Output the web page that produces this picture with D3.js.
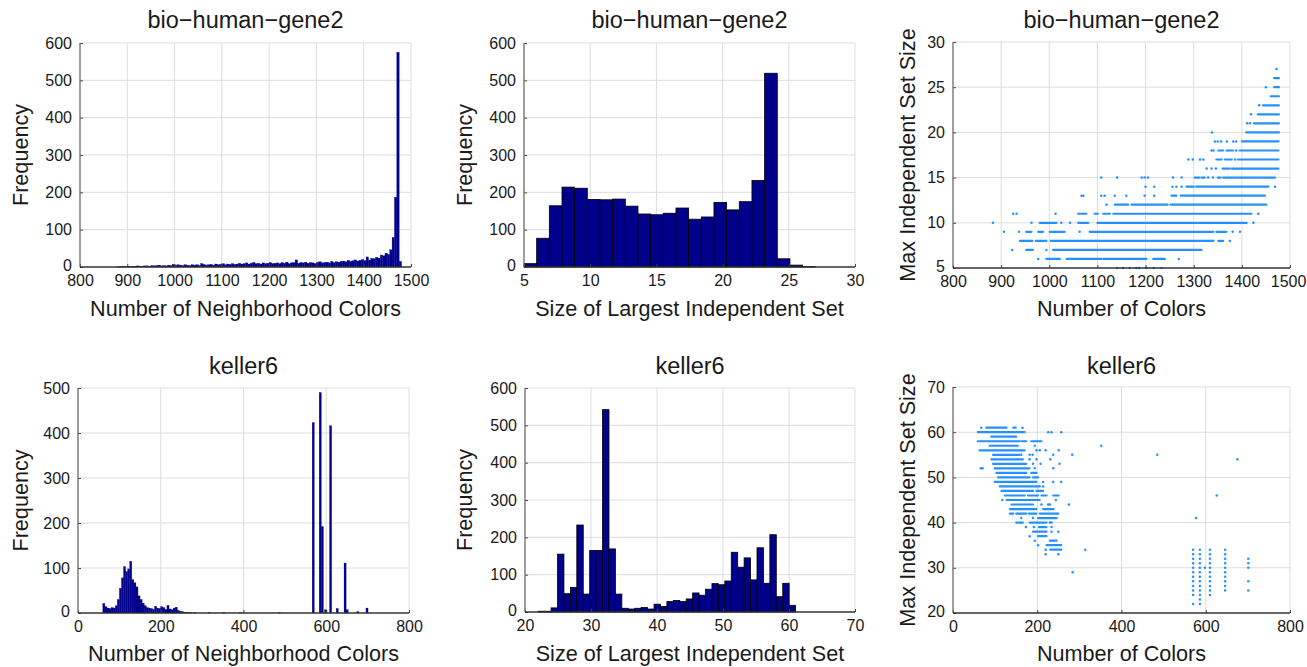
<!DOCTYPE html>
<html>
<head>
<meta charset="utf-8">
<title>Neighborhood colors vs independent sets</title>
<script src="https://cdn.jsdelivr.net/npm/d3@7"></script>
<style>
  body { margin: 0; background: #fff; }
  svg text { font-family: "Liberation Sans", Arial, Helvetica, sans-serif; fill: #1a1a1a; }
  .grid line { stroke: #dddddd; stroke-width: 1; }
  .tick line { stroke: #444; }
</style>
</head>
<body>
<svg id="chart" width="1307" height="667"></svg>
<script>
// ---- data ----

// bio-human-gene2: neighborhood colors histogram (bins of 5 starting at 880)
const bioNbrStart = 880, bioNbrWidth = 5;
const bioNbrCounts = [
  1,1,2,1,2,1,2,2,3,2,
  2,3,3,2,4,3,4,5,3,4,
  3,5,4,7,4,6,5,4,6,5,
  4,6,5,6,4,9,7,5,6,7,
  5,8,6,7,9,6,8,7,9,7,
  8,10,8,9,11,8,10,12,9,10,
  8,11,9,10,12,9,10,11,9,12,
  10,13,9,11,12,19,10,12,11,13,
  10,12,11,9,12,14,11,12,13,11,
  15,12,14,13,15,16,14,18,15,17,
  19,16,18,20,17,27,19,23,22,26,
  24,32,30,37,34,46,79,187,575,15
];

// bio-human-gene2: largest independent set histogram (23 bins over 5..27)
const bioMisRange = [5, 27];
const bioMisCounts = [9,77,164,214,211,181,180,182,163,142,140,144,158,128,134,173,153,175,232,519,22,5,1];

// bio-human-gene2 scatter: dense rows [y, xFrom, xTo] and single points [x, y]
const bioRuns = [
  [26,1467,1477],[25,1467,1477],[24,1460,1477],[23,1444,1477],[22,1433,1477],[21,1425,1477],[20,1409,1477],
  [19,1400,1476],
  [18,1351,1361],[18,1368,1382],[18,1395,1476],
  [17,1347,1358],[17,1365,1379],[17,1392,1476],
  [16,1360,1374],[16,1378,1476],
  [15,1302,1312],[15,1316,1323],[15,1350,1356],[15,1361,1469],
  [14,1285,1300],[14,1305,1455],
  [13,1254,1264],[13,1273,1448],
  [12,1136,1164],[12,1171,1246],[12,1252,1451],
  [11,1060,1077],[11,1094,1101],[11,1112,1126],[11,1133,1420],
  [10,980,1015],[10,1060,1081],[10,1100,1410],
  [9,952,963],[9,977,987],[9,1001,1032],[9,1084,1341],[9,1347,1368],
  [8,939,965],[8,972,994],[8,1003,1341],[8,1351,1361],
  [7,952,966],[7,1008,1316],
  [6,994,1022],[6,1036,1108],[6,1112,1202],[6,1216,1240]
];
const bioPts = [
  [1472,27],[1450,25],[1436,23],[1419,22],[1411,21],[1417,21],[1338,20],
  [1344,19],[1350,19],[1357,19],[1369,19],[1382,19],[1388,19],
  [1337,18],[1341,18],[1388,18],
  [1289,17],[1298,17],[1313,17],[1320,17],[1386,17],
  [1327,16],[1337,16],[1346,16],
  [1108,15],[1141,15],[1192,15],[1198,15],[1205,15],[1257,15],[1275,15],[1330,15],[1340,15],
  [1200,14],[1218,14],[1256,14],[1264,14],[1275,14],[1469,14],
  [1067,13],[1071,13],[1108,13],[1115,13],[1136,13],[1160,13],[1198,13],[1218,13],
  [1119,12],
  [925,11],[932,11],[1013,11],[1434,11],
  [883,10],[963,10],[1025,10],[1043,10],[1424,10],
  [906,9],[937,9],[1063,9],[1381,9],[1396,9],
  [1375,8],
  [923,7],[994,7],
  [977,6],[1269,6],
  [1141,5],[1153,5],[1167,5],[1181,5],[1187,5],[1202,5],[1217,5],[1233,5]
];

// keller6: neighborhood colors histogram, [binStart, count], bins of 5
const kellerNbrWidth = 5;
const kellerNbrBins = [
  [60,21],[65,14],[70,11],[75,10],[80,12],[85,11],[90,16],[95,30],[100,55],[105,78],
  [110,103],[115,92],[120,98],[125,115],[130,74],[135,67],[140,58],[145,38],[150,30],[155,22],
  [160,16],[165,12],[170,11],[175,10],[180,8],[185,15],[190,11],[195,10],[200,14],[205,12],
  [210,8],[215,17],[220,9],[225,7],[230,11],[235,13],[240,6],[245,4],[250,3],[255,2],
  [260,1],[265,1],[270,1],[280,1],[315,1],[350,1],[390,1],[485,1],
  [566,423],[583,490],[588,192],[596,7],[608,416],[624,10],[643,111],[648,7],[674,3],[696,11]
];

// keller6: largest independent set histogram (40 bins over 22..61)
const kellerMisRange = [22, 61];
const kellerMisCounts = [2,2,11,155,49,66,233,48,165,165,542,169,48,10,8,10,12,8,21,15,
  28,31,28,35,51,45,61,76,73,83,160,120,145,86,172,77,207,41,77,18];

// keller6 scatter
const kellerRuns = [
  [61,79,127],[61,143,149],[60,59,170],[59,91,150],[58,59,158],[58,162,174],[58,186,210],
  [57,87,154],[56,63,170],[55,95,158],[54,91,166],[53,95,174],[52,65,71],[52,99,182],
  [51,103,174],[51,186,198],[50,107,182],[50,190,202],[49,99,198],[48,111,206],
  [47,115,190],[47,198,214],[46,123,170],[46,178,202],[46,210,222],[46,238,251],
  [45,127,206],[44,139,190],[43,135,198],[43,214,239],[42,135,143],[42,150,174],[42,180,198],[42,206,250],
  [41,202,246],[40,150,166],[40,182,222],[39,204,222],[38,190,222],[37,202,222],[36,230,246],[35,222,257],[34,231,257]
];
const kellerPts = [
  [67,61],[165,61],[226,60],[234,60],[257,60],[194,57],[352,57],
  [198,56],[206,56],[220,56],[251,56],
  [162,55],[182,55],[189,55],[238,55],[283,55],[485,55],
  [182,54],[198,54],[231,54],[675,54],
  [190,53],[208,53],[253,53],
  [194,52],[238,52],
  [214,49],[238,49],[257,49],[214,48],[626,46],
  [117,45],[244,45],
  [210,44],[226,44],[230,44],[275,44],
  [162,41],[190,41],[577,41],
  [230,40],[234,40],
  [173,39],[192,39],[234,39],
  [234,38],[250,38],
  [182,37],[194,36],[202,35],
  [220,34],[314,34],[220,33],[250,33],[284,29]
];
const kellerColX = [570, 586, 598, 610, 646, 701];
const kellerColY = [
  [22,24,25,26,27,28,29,30,31,32,33,34],
  [22,23,24,25,26,27,28,29,30,31,32,33,34],
  [30],
  [24,25,26,27,28,29,30,31,32,33,34],
  [25,26,27,28,29,30,31,32,33,34],
  [25,27,30,31,32]
];

// ---- tick labels ----
const ticksBioNbrX = [800,900,1000,1100,1200,1300,1400,1500];
const ticksFreq600 = [0,100,200,300,400,500,600];
const ticksBioMisX = [5,10,15,20,25,30];
const ticksBioScatY = [5,10,15,20,25,30];
const ticksKellerNbrX = [0,200,400,600,800];
const ticksFreq500 = [0,100,200,300,400,500];
const ticksKellerMisX = [20,30,40,50,60,70];
const ticksKellerScatY = [20,30,40,50,60,70];

const MINUS = "\u2212";
const NAVY = "#00008b";
const DOT = "#2590ff";
const W = 1307;

const svg = d3.select("#chart");

function panel(p) {
  const x = d3.scaleLinear().domain(p.xDomain).range([p.left, p.right]);
  const y = d3.scaleLinear().domain(p.yDomain).range([p.bottom, p.top]);
  const g = svg.append("g");

  const grid = g.append("g").attr("class", "grid");
  grid.selectAll("line.gx").data(p.xTicks.slice(1)).join("line").attr("class", "gx")
    .attr("x1", d => x(d)).attr("x2", d => x(d)).attr("y1", p.top).attr("y2", p.bottom);
  grid.selectAll("line.gy").data(p.yTicks.slice(1)).join("line").attr("class", "gy")
    .attr("x1", p.left).attr("x2", p.right).attr("y1", d => y(d)).attr("y2", d => y(d));

  const marks = g.append("g");

  const ax = g.append("g").attr("transform", `translate(0,${p.bottom})`)
    .call(d3.axisBottom(x).tickValues(p.xTicks).tickFormat(d3.format("d"))
      .tickSizeInner(-3).tickSizeOuter(0).tickPadding(8));
  const ay = g.append("g").attr("transform", `translate(${p.left},0)`)
    .call(d3.axisLeft(y).tickValues(p.yTicks).tickFormat(d3.format("d"))
      .tickSizeInner(-3).tickSizeOuter(0).tickPadding(8));
  [ax, ay].forEach(a => {
    a.select(".domain").remove();
    a.selectAll("text").style("font-size", "16px").style("font-family", null).attr("fill", "#1a1a1a");
  });
  // lift the lowest y label a touch so it clears the first x label
  ay.selectAll("text").filter(d => d === p.yDomain[0]).attr("dy", "0.2em");
  // keep the last x label inside the page
  ax.selectAll("text").each(function () {
    const b = this.getBBox(), tx = x(d3.select(this).datum());
    const over = tx + b.x + b.width - (W - 1);
    if (over > 0) d3.select(this).attr("dx", -over);
  });

  g.append("line").attr("x1", p.left).attr("x2", p.left).attr("y1", p.top).attr("y2", p.bottom)
    .attr("stroke", "#6a6a6a").attr("stroke-width", 1.3);
  g.append("line").attr("x1", p.left).attr("x2", p.right).attr("y1", p.bottom).attr("y2", p.bottom)
    .attr("stroke", "#333").attr("stroke-width", 1.3);

  g.append("text").attr("x", (p.left + p.right) / 2).attr("y", p.titleY)
    .attr("text-anchor", "middle").style("font-size", "23.5px").text(p.title);
  g.append("text").attr("x", (p.left + p.right) / 2).attr("y", p.xLabelY)
    .attr("text-anchor", "middle").style("font-size", "21.6px").text(p.xLabel);
  g.append("text").attr("transform", `translate(${p.yLabelX},${(p.top + p.bottom) / 2}) rotate(-90)`)
    .attr("text-anchor", "middle").attr("dy", "0.35em").style("font-size", "21.6px").text(p.yLabel);

  return { x, y, marks };
}

function histBars(pn, bins, fill, stroke, sw) {
  pn.marks.selectAll("rect").data(bins).join("rect")
    .attr("x", d => pn.x(d.x0))
    .attr("width", d => Math.max(0.6, pn.x(d.x1) - pn.x(d.x0)))
    .attr("y", d => pn.y(d.n))
    .attr("height", d => pn.y(0) - pn.y(d.n))
    .attr("fill", fill).attr("stroke", stroke).attr("stroke-width", sw);
}

function scatter(pn, runs, pts) {
  pn.marks.selectAll("line").data(runs).join("line")
    .attr("x1", d => pn.x(d[1])).attr("x2", d => pn.x(d[2]))
    .attr("y1", d => pn.y(d[0])).attr("y2", d => pn.y(d[0]))
    .attr("stroke", DOT).attr("stroke-width", 2.2).attr("stroke-linecap", "round");
  pn.marks.selectAll("circle").data(pts).join("circle")
    .attr("cx", d => pn.x(d[0])).attr("cy", d => pn.y(d[1])).attr("r", 1.25)
    .attr("fill", DOT);
}

function evenBins(range, counts) {
  const w = (range[1] - range[0]) / counts.length;
  return counts.map((n, i) => ({ x0: range[0] + i * w, x1: range[0] + (i + 1) * w, n }));
}

const topTitle = 28, topXLab = 316, botTitle = 374, botXLab = 661;
const bioTitle = "bio" + MINUS + "human" + MINUS + "gene2";

// top-left
const p1 = panel({ left: 80, right: 411, top: 43, bottom: 267, xDomain: [800, 1500], yDomain: [0, 600],
  xTicks: ticksBioNbrX, yTicks: ticksFreq600, title: bioTitle, titleY: topTitle,
  xLabel: "Number of Neighborhood Colors", xLabelY: topXLab, yLabel: "Frequency", yLabelX: 20 });
histBars(p1, bioNbrCounts.map((n, i) => ({ x0: bioNbrStart + i * bioNbrWidth, x1: bioNbrStart + (i + 1) * bioNbrWidth, n })),
  NAVY, NAVY, 0.3);

// top-middle
const p2 = panel({ left: 524, right: 855, top: 43, bottom: 267, xDomain: [5, 30], yDomain: [0, 600],
  xTicks: ticksBioMisX, yTicks: ticksFreq600, title: bioTitle, titleY: topTitle,
  xLabel: "Size of Largest Independent Set", xLabelY: topXLab, yLabel: "Frequency", yLabelX: 464 });
histBars(p2, evenBins(bioMisRange, bioMisCounts), NAVY, "#000", 0.8);

// top-right
const p3 = panel({ left: 953, right: 1290, top: 42, bottom: 268, xDomain: [800, 1500], yDomain: [5, 30],
  xTicks: ticksBioNbrX, yTicks: ticksBioScatY, title: bioTitle, titleY: topTitle,
  xLabel: "Number of Colors", xLabelY: topXLab, yLabel: "Max Independent Set Size", yLabelX: 907 });
scatter(p3, bioRuns, bioPts);

// bottom-left
const p4 = panel({ left: 78, right: 409, top: 388, bottom: 613, xDomain: [0, 800], yDomain: [0, 500],
  xTicks: ticksKellerNbrX, yTicks: ticksFreq500, title: "keller6", titleY: botTitle,
  xLabel: "Number of Neighborhood Colors", xLabelY: botXLab, yLabel: "Frequency", yLabelX: 20 });
histBars(p4, kellerNbrBins.map(d => ({ x0: d[0], x1: d[0] + kellerNbrWidth, n: d[1] })), NAVY, NAVY, 0.3);

// bottom-middle
const p5 = panel({ left: 525, right: 855, top: 388, bottom: 612, xDomain: [20, 70], yDomain: [0, 600],
  xTicks: ticksKellerMisX, yTicks: ticksFreq600, title: "keller6", titleY: botTitle,
  xLabel: "Size of Largest Independent Set", xLabelY: botXLab, yLabel: "Frequency", yLabelX: 464 });
histBars(p5, evenBins(kellerMisRange, kellerMisCounts), NAVY, "#000", 0.8);

// bottom-right
const kellerColPts = kellerColX.flatMap((cx, i) => kellerColY[i].map(v => [cx, v]));
const p6 = panel({ left: 953, right: 1290, top: 387, bottom: 613, xDomain: [0, 800], yDomain: [20, 70],
  xTicks: ticksKellerNbrX, yTicks: ticksKellerScatY, title: "keller6", titleY: botTitle,
  xLabel: "Number of Colors", xLabelY: botXLab, yLabel: "Max Independent Set Size", yLabelX: 907 });
scatter(p6, kellerRuns, kellerPts.concat(kellerColPts));
</script>
</body>
</html>
